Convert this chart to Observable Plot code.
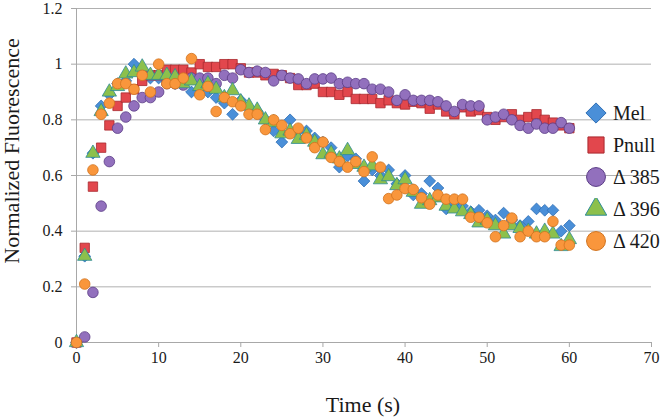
<!DOCTYPE html>
<html><head><meta charset="utf-8">
<script src="https://cdn.jsdelivr.net/npm/d3@7"></script>
<script src="https://cdn.jsdelivr.net/npm/@observablehq/plot@0.6"></script>
<style>
body{margin:0;background:#fff;}
#wrap{position:relative;width:666px;height:419px;font-family:"Liberation Serif",serif;color:#1a1a1a;overflow:hidden;}
#chart{position:absolute;left:0;top:0;}
#chart svg, #chart svg text{font-family:"Liberation Serif",serif !important;}
.ytitle{position:absolute;left:12px;top:151px;transform:translate(-50%,-50%) rotate(-90deg);font-size:22px;white-space:nowrap;}
.xtitle{position:absolute;left:363px;top:405px;transform:translate(-50%,-50%);font-size:22px;white-space:nowrap;}
#legend{position:absolute;left:585px;top:97px;}
.item{display:flex;align-items:center;height:32px;font-size:20px;white-space:nowrap;}
.item svg{margin-right:6px;}
</style></head>
<body><div id="wrap"><div id="chart"></div>
<div class="ytitle">Normalized Fluorescence</div>
<div class="xtitle">Time (s)</div>
<div id="legend"></div></div>
<script>
const times = [0,1,2,3,4,5,6,7,8,9,10,11,12,13,14,15,16,17,18,19,20,21,22,23,24,25,26,27,28,29,30,31,32,33,34,35,36,37,38,39,40,41,42,43,44,45,46,47,48,49,50,51,52,53,54,55,56,57,58,59,60];
const mel = [0,0.31,0.68,0.85,0.89,0.93,0.94,1.00,0.96,0.95,0.95,0.94,0.93,0.93,0.90,0.94,0.90,0.88,0.86,0.82,0.87,0.84,0.83,0.80,0.76,0.72,0.80,0.76,0.76,0.735,0.72,0.70,0.63,0.67,0.66,0.58,0.62,0.60,0.62,0.57,0.60,0.53,0.535,0.58,0.555,0.48,0.50,0.49,0.47,0.475,0.455,0.44,0.465,0.44,0.42,0.435,0.48,0.475,0.475,0.40,0.42];
const pnull = [0,0.34,0.56,0.70,0.78,0.85,0.88,0.91,0.94,0.96,0.96,0.98,0.98,0.98,0.97,1.00,0.99,0.99,1.00,1.00,0.985,0.97,0.97,0.96,0.965,0.96,0.95,0.925,0.925,0.93,0.90,0.90,0.89,0.90,0.875,0.875,0.875,0.86,0.87,0.86,0.855,0.865,0.86,0.84,0.855,0.83,0.82,0.845,0.83,0.835,0.81,0.80,0.81,0.82,0.80,0.81,0.82,0.80,0.79,0.78,0.77];
const d385 = [0,0.02,0.18,0.49,0.65,0.77,0.81,0.85,0.88,0.88,0.90,0.93,0.93,0.925,0.95,0.95,0.95,0.93,0.96,0.95,0.98,0.97,0.975,0.97,0.94,0.96,0.95,0.947,0.93,0.947,0.947,0.95,0.93,0.935,0.93,0.93,0.91,0.91,0.90,0.87,0.89,0.87,0.87,0.87,0.865,0.85,0.83,0.855,0.85,0.85,0.80,0.81,0.82,0.80,0.78,0.77,0.785,0.77,0.77,0.79,0.77];
const d396 = [0,0.31,0.68,0.83,0.90,0.92,0.965,0.97,0.99,0.96,0.96,0.96,0.955,0.93,0.94,0.92,0.93,0.91,0.88,0.905,0.865,0.85,0.835,0.80,0.79,0.75,0.76,0.73,0.745,0.72,0.675,0.68,0.66,0.69,0.64,0.63,0.635,0.585,0.596,0.564,0.585,0.54,0.497,0.51,0.52,0.49,0.48,0.47,0.46,0.43,0.44,0.42,0.39,0.42,0.41,0.40,0.39,0.40,0.39,0.345,0.37];
const d420 = [0,0.21,0.62,0.82,0.86,0.93,0.93,0.91,0.96,0.90,1.00,0.93,0.93,0.95,1.02,0.89,0.92,0.83,0.88,0.865,0.85,0.82,0.82,0.765,0.80,0.78,0.75,0.77,0.735,0.70,0.72,0.665,0.65,0.63,0.65,0.614,0.667,0.63,0.517,0.53,0.553,0.55,0.52,0.497,0.53,0.515,0.515,0.515,0.45,0.45,0.43,0.38,0.42,0.447,0.38,0.40,0.38,0.38,0.435,0.35,0.35];

const seriesNames = ["Mel","Pnull","\u0394 385","\u0394 396","\u0394 420"];
const seriesValues = [mel, pnull, d385, d396, d420];
const seriesSymbols = ["diamond2","square","circle","triangle","circle"];
const seriesFill = ["#4a8fd8","#e2474d","#9270bd","#8cc04c","#f9963c"];
const seriesStroke = ["#2f6fb5","#a8282e","#5c3e86","#2d8c96","#d0731f"];
const xTicks = [0,10,20,30,40,50,60,70];
const yTicks = [0,0.2,0.4,0.6,0.8,1,1.2];

const dotMarks = seriesNames.map((name, i) => {
  const rows = times.map((t, j) => ({t, v: seriesValues[i][j]}));
  return Plot.dot(rows, {x: "t", y: "v", symbol: () => seriesSymbols[i], r: i === 1 ? 5.3 : 5.3,
    fill: seriesFill[i], stroke: seriesStroke[i], strokeWidth: 0.8});
});

const chart = Plot.plot({
  width: 666, height: 419,
  marginLeft: 76, marginRight: 15, marginTop: 8, marginBottom: 77,
  style: {fontFamily: "Liberation Serif, serif", fontSize: "16px", color: "#1a1a1a", background: "white"},
  x: {domain: [0, 70]},
  y: {domain: [0, 1.2]},
  symbol: {type: "identity"},
  marks: [
    Plot.gridY(yTicks, {stroke: "#b0b0b0", strokeOpacity: 1}),
    Plot.ruleY([0], {stroke: "#a8a8a8"}),
    Plot.ruleX([0], {stroke: "#a8a8a8"}),
    Plot.axisX({ticks: xTicks, tickSize: 5, tickPadding: 4, label: null, stroke: "#a8a8a8", fill: "#1a1a1a", fontSize: 16}),
    Plot.axisY({ticks: yTicks, tickSize: 5, tickPadding: 9, label: null, tickFormat: d3.format("~g"), stroke: "#a8a8a8", fill: "#1a1a1a", fontSize: 16}),
    ...dotMarks
  ]
});
document.getElementById("chart").appendChild(chart);

const legend = document.getElementById("legend");
const symMap = {diamond2: d3.symbolDiamond2, square: d3.symbolSquare, circle: d3.symbolCircle, triangle: d3.symbolTriangle};
seriesNames.forEach((name, i) => {
  const item = document.createElement("div");
  item.className = "item";
  const sz = seriesSymbols[i] === "circle" ? 280 : (seriesSymbols[i] === "triangle" ? 200 : 260);
  const path = d3.symbol(symMap[seriesSymbols[i]], sz)();
  item.innerHTML = `<svg width="22" height="22" viewBox="-11 -11 22 22"><path d="${path}" fill="${seriesFill[i]}" stroke="${seriesStroke[i]}" stroke-width="1"/></svg><span>${name}</span>`;
  legend.appendChild(item);
});
</script></body></html>
